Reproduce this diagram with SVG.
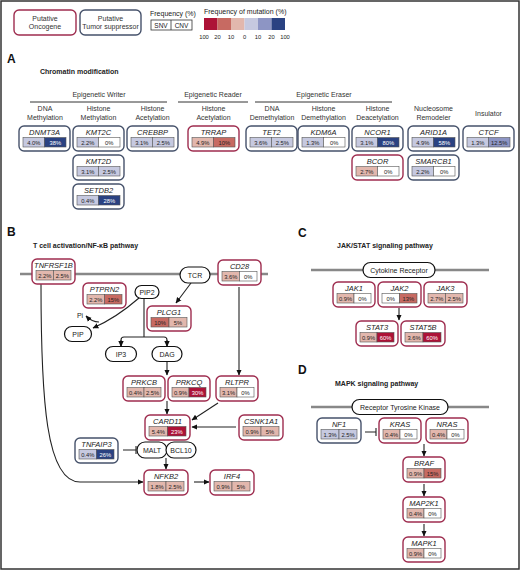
<svg xmlns="http://www.w3.org/2000/svg" width="520" height="570" viewBox="0 0 520 570">
<defs>
<marker id="ah" viewBox="0 0 10 10" refX="9" refY="5" markerWidth="6" markerHeight="6" orient="auto" markerUnits="userSpaceOnUse"><path d="M0,0.5 L10,5 L0,9.5 Z" fill="#111"/></marker>
<style>
text{font-family:"Liberation Sans",Arial,sans-serif;fill:#222}
.onc{fill:#fff;stroke:#9e2d4f;stroke-width:1.4}
.ts{fill:#fff;stroke:#46526b;stroke-width:1.4}
.gn{font-size:7.5px;font-style:italic;text-anchor:middle}
.v{font-size:5.8px;text-anchor:middle}
.w{fill:#fff}
.cl{stroke:#555;stroke-width:0.6}
.c0{fill:#fff}.lr{fill:#e2b7ad}.mr{fill:#c76a62}.dr{fill:#ad1237}
.lb{fill:#c6c9e0}.mb{fill:#8d95c4}.db{fill:#2a4282}
.lbl{font-size:7px;text-anchor:middle;fill:#333}
.ttl{font-size:7px;font-weight:bold}
.big{font-size:12px;font-weight:bold;fill:#111}
.pl{fill:#fff;stroke:#111;stroke-width:1.2}
.pt{font-size:7px;text-anchor:middle}
.ln{stroke:#222;stroke-width:1.1;fill:none}
.mem{stroke:#888;stroke-width:2.5}
.hd{stroke:#333;stroke-width:1}
</style>
</defs>
<rect x="1" y="1" width="518" height="568" fill="#fff" stroke="#333" stroke-width="1.5"/>

<!-- Legend -->
<g id="legend">
<rect class="onc" x="14" y="10" width="62" height="25" rx="5"/>
<text class="lbl" x="45" y="20.5">Putative</text><text class="lbl" x="45" y="29">Oncogene</text>
<rect class="ts" x="80" y="10" width="61" height="25" rx="5"/>
<text class="lbl" x="110.5" y="20.5">Putative</text><text class="lbl" x="110.5" y="29">Tumor suppressor</text>
<text x="150" y="15.5" style="font-size:7px">Frequency (%)</text>
<rect x="151" y="20" width="41" height="10" fill="#fff" stroke="#333" stroke-width="0.8"/>
<line x1="171" y1="20" x2="171" y2="30" stroke="#333" stroke-width="0.8"/>
<text class="v" x="161" y="27.5" style="font-size:6.5px">SNV</text><text class="v" x="181.5" y="27.5" style="font-size:6.5px">CNV</text>
<text x="204" y="14" style="font-size:7px">Frequency of mutation (%)</text>
<rect class="dr" x="204" y="18" width="13.5" height="12"/>
<rect class="mr" x="217.5" y="18" width="13.5" height="12"/>
<rect class="lr" x="231" y="18" width="13.5" height="12"/>
<rect class="lb" x="244.5" y="18" width="13.5" height="12"/>
<rect class="mb" x="258" y="18" width="13.5" height="12"/>
<rect class="db" x="271.5" y="18" width="13.5" height="12"/>
<text class="v" x="204" y="38.5">100</text><text class="v" x="217.5" y="38.5">20</text><text class="v" x="231" y="38.5">10</text><text class="v" x="244.5" y="38.5">0</text><text class="v" x="258" y="38.5">10</text><text class="v" x="271.5" y="38.5">20</text><text class="v" x="285" y="38.5">100</text>
</g>

<!-- Section A -->
<g id="sectionA-labels">
<text class="big" x="7" y="63">A</text>
<text class="ttl" x="40" y="74">Chromatin modification</text>
<text class="lbl" x="99" y="97">Epigenetic Writer</text>
<line class="hd" x1="30" y1="102" x2="167" y2="102"/>
<text class="lbl" x="213" y="97">Epigenetic Reader</text>
<line class="hd" x1="178" y1="102" x2="248" y2="102"/>
<text class="lbl" x="324" y="97">Epigenetic Eraser</text>
<line class="hd" x1="255" y1="102" x2="392" y2="102"/>
<text class="lbl" x="45" y="111">DNA</text><text class="lbl" x="45" y="120">Methylation</text>
<text class="lbl" x="98.5" y="111">Histone</text><text class="lbl" x="98.5" y="120">Methylation</text>
<text class="lbl" x="152.5" y="111">Histone</text><text class="lbl" x="152.5" y="120">Acetylation</text>
<text class="lbl" x="213.5" y="111">Histone</text><text class="lbl" x="213.5" y="120">Acetylation</text>
<text class="lbl" x="272" y="111">DNA</text><text class="lbl" x="272" y="120">Demethylation</text>
<text class="lbl" x="323.5" y="111">Histone</text><text class="lbl" x="323.5" y="120">Demethylation</text>
<text class="lbl" x="377.5" y="111">Histone</text><text class="lbl" x="377.5" y="120">Deacetylation</text>
<text class="lbl" x="433.5" y="111">Nucleosome</text><text class="lbl" x="433.5" y="120">Remodeler</text>
<text class="lbl" x="488.5" y="116">Insulator</text>
</g>

<g id="DNMT3A"><rect class="ts" x="19" y="126" width="51" height="25" rx="5"/><text class="gn" x="44.5" y="135">DNMT3A</text><rect class="lb cl" x="23" y="137.5" width="21.5" height="9.5"/><rect class="db cl" x="44.5" y="137.5" width="21.5" height="9.5"/><text class="v" x="33.75" y="144.5">4.0%</text><text class="v w" x="55.25" y="144.5">38%</text></g>
<g id="KMT2C"><rect class="ts" x="73" y="126" width="51" height="25" rx="5"/><text class="gn" x="98.5" y="135">KMT2C</text><rect class="lb cl" x="77" y="137.5" width="21.5" height="9.5"/><rect class="c0 cl" x="98.5" y="137.5" width="21.5" height="9.5"/><text class="v" x="87.75" y="144.5">2.2%</text><text class="v" x="109.25" y="144.5">0%</text></g>
<g id="CREBBP"><rect class="ts" x="127" y="126" width="51" height="25" rx="5"/><text class="gn" x="152.5" y="135">CREBBP</text><rect class="lb cl" x="131" y="137.5" width="21.5" height="9.5"/><rect class="lb cl" x="152.5" y="137.5" width="21.5" height="9.5"/><text class="v" x="141.75" y="144.5">3.1%</text><text class="v" x="163.25" y="144.5">2.5%</text></g>
<g id="TRRAP"><rect class="onc" x="188" y="126" width="51" height="25" rx="5"/><text class="gn" x="213.5" y="135">TRRAP</text><rect class="lr cl" x="192" y="137.5" width="21.5" height="9.5"/><rect class="mr cl" x="213.5" y="137.5" width="21.5" height="9.5"/><text class="v" x="202.75" y="144.5">4.9%</text><text class="v" x="224.25" y="144.5">10%</text></g>
<g id="TET2"><rect class="ts" x="246" y="126" width="51" height="25" rx="5"/><text class="gn" x="271.5" y="135">TET2</text><rect class="lb cl" x="250" y="137.5" width="21.5" height="9.5"/><rect class="lb cl" x="271.5" y="137.5" width="21.5" height="9.5"/><text class="v" x="260.75" y="144.5">3.6%</text><text class="v" x="282.25" y="144.5">2.5%</text></g>
<g id="KDM6A"><rect class="ts" x="298" y="126" width="51" height="25" rx="5"/><text class="gn" x="323.5" y="135">KDM6A</text><rect class="lb cl" x="302" y="137.5" width="21.5" height="9.5"/><rect class="c0 cl" x="323.5" y="137.5" width="21.5" height="9.5"/><text class="v" x="312.75" y="144.5">1.3%</text><text class="v" x="334.25" y="144.5">0%</text></g>
<g id="NCOR1"><rect class="ts" x="352" y="126" width="51" height="25" rx="5"/><text class="gn" x="377.5" y="135">NCOR1</text><rect class="lb cl" x="356" y="137.5" width="21.5" height="9.5"/><rect class="db cl" x="377.5" y="137.5" width="21.5" height="9.5"/><text class="v" x="366.75" y="144.5">3.1%</text><text class="v w" x="388.25" y="144.5">80%</text></g>
<g id="ARID1A"><rect class="ts" x="408" y="126" width="51" height="25" rx="5"/><text class="gn" x="433.5" y="135">ARID1A</text><rect class="lb cl" x="412" y="137.5" width="21.5" height="9.5"/><rect class="db cl" x="433.5" y="137.5" width="21.5" height="9.5"/><text class="v" x="422.75" y="144.5">4.9%</text><text class="v w" x="444.25" y="144.5">58%</text></g>
<g id="CTCF"><rect class="ts" x="463" y="126" width="51" height="25" rx="5"/><text class="gn" x="488.5" y="135">CTCF</text><rect class="lb cl" x="467" y="137.5" width="21.5" height="9.5"/><rect class="mb cl" x="488.5" y="137.5" width="21.5" height="9.5"/><text class="v" x="477.75" y="144.5">1.3%</text><text class="v" x="499.25" y="144.5">12.5%</text></g>
<g id="KMT2D"><rect class="ts" x="73" y="155" width="51" height="25" rx="5"/><text class="gn" x="98.5" y="164">KMT2D</text><rect class="lb cl" x="77" y="166.5" width="21.5" height="9.5"/><rect class="lb cl" x="98.5" y="166.5" width="21.5" height="9.5"/><text class="v" x="87.75" y="173.5">3.1%</text><text class="v" x="109.25" y="173.5">2.5%</text></g>
<g id="BCOR"><rect class="onc" x="352" y="155" width="51" height="25" rx="5"/><text class="gn" x="377.5" y="164">BCOR</text><rect class="lr cl" x="356" y="166.5" width="21.5" height="9.5"/><rect class="c0 cl" x="377.5" y="166.5" width="21.5" height="9.5"/><text class="v" x="366.75" y="173.5">2.7%</text><text class="v" x="388.25" y="173.5">0%</text></g>
<g id="SMARCB1"><rect class="ts" x="408" y="155" width="51" height="25" rx="5"/><text class="gn" x="433.5" y="164">SMARCB1</text><rect class="lb cl" x="412" y="166.5" width="21.5" height="9.5"/><rect class="c0 cl" x="433.5" y="166.5" width="21.5" height="9.5"/><text class="v" x="422.75" y="173.5">2.2%</text><text class="v" x="444.25" y="173.5">0%</text></g>
<g id="SETDB2"><rect class="ts" x="73" y="184" width="51" height="25" rx="5"/><text class="gn" x="98.5" y="193">SETDB2</text><rect class="lb cl" x="77" y="195.5" width="21.5" height="9.5"/><rect class="db cl" x="98.5" y="195.5" width="21.5" height="9.5"/><text class="v" x="87.75" y="202.5">0.4%</text><text class="v w" x="109.25" y="202.5">28%</text></g>

<!-- Section labels B C D and membranes -->
<g id="titles">
<text class="big" x="7" y="236">B</text>
<text class="ttl" x="33" y="248">T cell activation/NF-κB pathway</text>
<text class="big" x="298" y="237">C</text>
<text class="ttl" x="337" y="248">JAK/STAT signaling pathway</text>
<text class="big" x="298" y="374">D</text>
<text class="ttl" x="335" y="386">MAPK signaling pathway</text>
</g>
<g id="membranes">
<line class="mem" x1="20" y1="274" x2="268" y2="274"/>
<line class="mem" x1="311" y1="270" x2="489" y2="270"/>
<line class="mem" x1="311" y1="407" x2="489" y2="407"/>
</g>

<!-- Connectors -->
<g id="connectors">
<line class="ln" x1="191" y1="283" x2="176" y2="303" marker-end="url(#ah)"/>
<path class="ln" d="M139 298 Q116 318 93 328" marker-end="url(#ah)"/>
<path class="ln" d="M99 322 Q92 322 86 316" marker-end="url(#ah)"/>
<path class="ln" d="M144 298 L144 337"/>
<path class="ln" d="M121 346 L121 340 Q121 337 124 337 L164 337 Q167 337 167 340 L167 346" />
<line class="ln" x1="121" y1="340" x2="121" y2="346.5" marker-end="url(#ah)"/>
<line class="ln" x1="167" y1="340" x2="167" y2="346.5" marker-end="url(#ah)"/>
<line class="ln" x1="167" y1="362" x2="167" y2="375" marker-end="url(#ah)"/>
<line class="ln" x1="167" y1="401" x2="167" y2="414" marker-end="url(#ah)"/>
<line class="ln" x1="239" y1="287" x2="239" y2="375" marker-end="url(#ah)"/>
<line class="ln" x1="218" y1="403" x2="192" y2="420" marker-end="url(#ah)"/>
<line class="ln" x1="236" y1="427" x2="192" y2="427" marker-end="url(#ah)"/>
<path class="ln" d="M123 450 L136 450 M136 446 L136 454"/>
<line class="ln" x1="166" y1="458" x2="166" y2="469" marker-end="url(#ah)"/>
<line class="ln" x1="194" y1="482" x2="209" y2="482" marker-end="url(#ah)"/>
<path class="ln" d="M41 284 C41 400 46 482 80 482 L143 482" marker-end="url(#ah)"/>
<line class="ln" x1="399" y1="308" x2="399" y2="320" marker-end="url(#ah)"/>
<path class="ln" d="M365 432 L376 432 M376 428 L376 436"/>
<line class="ln" x1="424" y1="444" x2="424" y2="456" marker-end="url(#ah)"/>
<line class="ln" x1="424" y1="484" x2="424" y2="496" marker-end="url(#ah)"/>
<line class="ln" x1="424" y1="524" x2="424" y2="536" marker-end="url(#ah)"/>
</g>

<!-- Molecule pills -->
<g id="PIP2"><rect class="pl" x="135" y="285.5" width="24" height="13" rx="6.5"/><text class="pt" x="147" y="294.5">PIP2</text></g>
<g id="TCR"><rect class="pl" x="180" y="267" width="30" height="16" rx="8"/><text class="pt" x="195" y="277.5">TCR</text></g>
<g id="Pi"><text class="pt" x="80" y="318">Pi</text></g>
<g id="PIP"><rect class="pl" x="64.5" y="326.5" width="27" height="15" rx="7.5"/><text class="pt" x="78" y="336.5">PIP</text></g>
<g id="IP3"><rect class="pl" x="105.5" y="346.5" width="31" height="15" rx="7.5"/><text class="pt" x="121" y="356.5">IP3</text></g>
<g id="DAG"><rect class="pl" x="152" y="346.5" width="30" height="15" rx="7.5"/><text class="pt" x="167" y="356.5">DAG</text></g>
<g id="MALT"><rect class="pl" x="137" y="442" width="30" height="16" rx="8"/><text class="pt" x="152" y="452.5">MALT</text></g>
<g id="BCL10"><rect class="pl" x="166" y="442" width="30" height="16" rx="8"/><text class="pt" x="181" y="452.5">BCL10</text></g>
<g id="CytokineReceptor"><rect class="pl" x="363" y="262.5" width="72" height="15" rx="7.5"/><text class="pt" x="399" y="272.5">Cytokine Receptor</text></g>
<g id="RTK"><rect class="pl" x="352" y="399.5" width="96" height="15" rx="7.5"/><text class="pt" x="400" y="409.5">Receptor Tyrosine Kinase</text></g>

<!-- Section B genes -->
<g id="TNFRSF1B"><rect class="onc" x="32" y="259" width="43" height="25" rx="5"/><text class="gn" x="53.5" y="268">TNFRSF1B</text><rect class="lr cl" x="36" y="270.5" width="17.5" height="9.5"/><rect class="lr cl" x="53.5" y="270.5" width="17.5" height="9.5"/><text class="v" x="44.75" y="277.5">2.2%</text><text class="v" x="62.25" y="277.5">2.5%</text></g>
<g id="PTPRN2"><rect class="onc" x="83" y="283" width="43" height="25" rx="5"/><text class="gn" x="104.5" y="292">PTPRN2</text><rect class="lr cl" x="87" y="294.5" width="17.5" height="9.5"/><rect class="mr cl" x="104.5" y="294.5" width="17.5" height="9.5"/><text class="v" x="95.75" y="301.5">2.2%</text><text class="v" x="113.25" y="301.5">15%</text></g>
<g id="CD28"><rect class="onc" x="218" y="260" width="43" height="25" rx="5"/><text class="gn" x="239.5" y="269">CD28</text><rect class="lr cl" x="222" y="271.5" width="17.5" height="9.5"/><rect class="c0 cl" x="239.5" y="271.5" width="17.5" height="9.5"/><text class="v" x="230.75" y="278.5">3.6%</text><text class="v" x="248.25" y="278.5">0%</text></g>
<g id="PLCG1"><rect class="onc" x="147" y="306" width="44" height="25" rx="5"/><text class="gn" x="169" y="315">PLCG1</text><rect class="mr cl" x="151" y="317.5" width="18" height="9.5"/><rect class="lr cl" x="169" y="317.5" width="18" height="9.5"/><text class="v" x="160" y="324.5">10%</text><text class="v" x="178" y="324.5">5%</text></g>
<g id="PRKCB"><rect class="onc" x="123" y="376" width="42" height="25" rx="5"/><text class="gn" x="144" y="385">PRKCB</text><rect class="lr cl" x="127" y="387.5" width="17" height="9.5"/><rect class="lr cl" x="144" y="387.5" width="17" height="9.5"/><text class="v" x="135.5" y="394.5">0.4%</text><text class="v" x="152.5" y="394.5">2.5%</text></g>
<g id="PRKCQ"><rect class="onc" x="168" y="376" width="42" height="25" rx="5"/><text class="gn" x="189" y="385">PRKCQ</text><rect class="lr cl" x="172" y="387.5" width="17" height="9.5"/><rect class="dr cl" x="189" y="387.5" width="17" height="9.5"/><text class="v" x="180.5" y="394.5">0.9%</text><text class="v w" x="197.5" y="394.5">30%</text></g>
<g id="RLTPR"><rect class="onc" x="216" y="376" width="42" height="25" rx="5"/><text class="gn" x="237" y="385">RLTPR</text><rect class="lr cl" x="220" y="387.5" width="17" height="9.5"/><rect class="c0 cl" x="237" y="387.5" width="17" height="9.5"/><text class="v" x="228.5" y="394.5">3.1%</text><text class="v" x="245.5" y="394.5">0%</text></g>
<g id="CARD11"><rect class="onc" x="145" y="415" width="45" height="25" rx="5"/><text class="gn" x="167.5" y="424">CARD11</text><rect class="lr cl" x="149" y="426.5" width="18.5" height="9.5"/><rect class="dr cl" x="167.5" y="426.5" width="18.5" height="9.5"/><text class="v" x="158.25" y="433.5">5.4%</text><text class="v w" x="176.75" y="433.5">23%</text></g>
<g id="CSNK1A1"><rect class="onc" x="239" y="415" width="44" height="25" rx="5"/><text class="gn" x="261" y="424">CSNK1A1</text><rect class="lr cl" x="243" y="426.5" width="18" height="9.5"/><rect class="lr cl" x="261" y="426.5" width="18" height="9.5"/><text class="v" x="252" y="433.5">0.9%</text><text class="v" x="270" y="433.5">5%</text></g>
<g id="TNFAIP3"><rect class="ts" x="75" y="438" width="43" height="25" rx="5"/><text class="gn" x="96.5" y="447">TNFAIP3</text><rect class="lb cl" x="79" y="449.5" width="17.5" height="9.5"/><rect class="db cl" x="96.5" y="449.5" width="17.5" height="9.5"/><text class="v" x="87.75" y="456.5">0.4%</text><text class="v w" x="105.25" y="456.5">26%</text></g>
<g id="NFKB2"><rect class="onc" x="144" y="470" width="44" height="25" rx="5"/><text class="gn" x="166" y="479">NFKB2</text><rect class="lr cl" x="148" y="481.5" width="18" height="9.5"/><rect class="lr cl" x="166" y="481.5" width="18" height="9.5"/><text class="v" x="157" y="488.5">1.8%</text><text class="v" x="175" y="488.5">2.5%</text></g>
<g id="IRF4"><rect class="onc" x="210" y="470" width="44" height="25" rx="5"/><text class="gn" x="232" y="479">IRF4</text><rect class="lr cl" x="214" y="481.5" width="18" height="9.5"/><rect class="lr cl" x="232" y="481.5" width="18" height="9.5"/><text class="v" x="223" y="488.5">0.9%</text><text class="v" x="241" y="488.5">5%</text></g>

<!-- Section C genes -->
<g id="JAK1"><rect class="onc" x="333" y="282" width="42" height="25" rx="5"/><text class="gn" x="354" y="291">JAK1</text><rect class="lr cl" x="337" y="293.5" width="17" height="9.5"/><rect class="c0 cl" x="354" y="293.5" width="17" height="9.5"/><text class="v" x="345.5" y="300.5">0.9%</text><text class="v" x="362.5" y="300.5">0%</text></g>
<g id="JAK2"><rect class="onc" x="378" y="282" width="43" height="25" rx="5"/><text class="gn" x="399.5" y="291">JAK2</text><rect class="c0 cl" x="382" y="293.5" width="17.5" height="9.5"/><rect class="mr cl" x="399.5" y="293.5" width="17.5" height="9.5"/><text class="v" x="390.75" y="300.5">0%</text><text class="v" x="408.25" y="300.5">13%</text></g>
<g id="JAK3"><rect class="onc" x="424" y="282" width="43" height="25" rx="5"/><text class="gn" x="445.5" y="291">JAK3</text><rect class="lr cl" x="428" y="293.5" width="17.5" height="9.5"/><rect class="lr cl" x="445.5" y="293.5" width="17.5" height="9.5"/><text class="v" x="436.75" y="300.5">2.7%</text><text class="v" x="454.25" y="300.5">2.5%</text></g>
<g id="STAT3"><rect class="onc" x="356" y="321" width="42" height="25" rx="5"/><text class="gn" x="377" y="330">STAT3</text><rect class="lr cl" x="360" y="332.5" width="17" height="9.5"/><rect class="dr cl" x="377" y="332.5" width="17" height="9.5"/><text class="v" x="368.5" y="339.5">0.9%</text><text class="v w" x="385.5" y="339.5">60%</text></g>
<g id="STAT5B"><rect class="onc" x="401" y="321" width="44" height="25" rx="5"/><text class="gn" x="423" y="330">STAT5B</text><rect class="lr cl" x="405" y="332.5" width="18" height="9.5"/><rect class="dr cl" x="423" y="332.5" width="18" height="9.5"/><text class="v" x="414" y="339.5">3.6%</text><text class="v w" x="432" y="339.5">60%</text></g>

<!-- Section D genes -->
<g id="NF1"><rect class="ts" x="317" y="418" width="44" height="25" rx="5"/><text class="gn" x="339" y="427">NF1</text><rect class="lb cl" x="321" y="429.5" width="18" height="9.5"/><rect class="lb cl" x="339" y="429.5" width="18" height="9.5"/><text class="v" x="330" y="436.5">1.3%</text><text class="v" x="348" y="436.5">2.5%</text></g>
<g id="KRAS"><rect class="onc" x="379" y="418" width="42" height="25" rx="5"/><text class="gn" x="400" y="427">KRAS</text><rect class="lr cl" x="383" y="429.5" width="17" height="9.5"/><rect class="c0 cl" x="400" y="429.5" width="17" height="9.5"/><text class="v" x="391.5" y="436.5">0.4%</text><text class="v" x="408.5" y="436.5">0%</text></g>
<g id="NRAS"><rect class="onc" x="426" y="418" width="42" height="25" rx="5"/><text class="gn" x="447" y="427">NRAS</text><rect class="lr cl" x="430" y="429.5" width="17" height="9.5"/><rect class="c0 cl" x="447" y="429.5" width="17" height="9.5"/><text class="v" x="438.5" y="436.5">0.4%</text><text class="v" x="455.5" y="436.5">0%</text></g>
<g id="BRAF"><rect class="onc" x="403" y="457" width="42" height="25" rx="5"/><text class="gn" x="424" y="466">BRAF</text><rect class="lr cl" x="407" y="468.5" width="17" height="9.5"/><rect class="mr cl" x="424" y="468.5" width="17" height="9.5"/><text class="v" x="415.5" y="475.5">0.9%</text><text class="v" x="432.5" y="475.5">15%</text></g>
<g id="MAP2K1"><rect class="onc" x="403" y="497" width="42" height="25" rx="5"/><text class="gn" x="424" y="506">MAP2K1</text><rect class="lr cl" x="407" y="508.5" width="17" height="9.5"/><rect class="c0 cl" x="424" y="508.5" width="17" height="9.5"/><text class="v" x="415.5" y="515.5">0.4%</text><text class="v" x="432.5" y="515.5">0%</text></g>
<g id="MAPK1"><rect class="onc" x="403" y="537" width="42" height="25" rx="5"/><text class="gn" x="424" y="546">MAPK1</text><rect class="lr cl" x="407" y="548.5" width="17" height="9.5"/><rect class="c0 cl" x="424" y="548.5" width="17" height="9.5"/><text class="v" x="415.5" y="555.5">0.9%</text><text class="v" x="432.5" y="555.5">0%</text></g>
</svg>
